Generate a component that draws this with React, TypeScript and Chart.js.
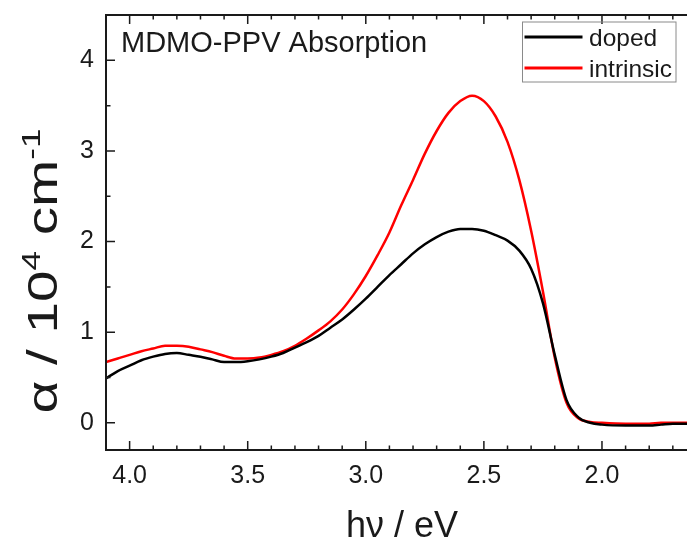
import React, { useEffect, useRef } from 'react';
import { Chart, registerables } from 'chart.js';

Chart.register(...registerables);

// ---- data ----
const energy = [
  4.10, 4.05, 4.00, 3.95, 3.90, 3.85, 3.80, 3.75, 3.70, 3.65, 3.60, 3.55, 3.50, 3.45, 3.40,
  3.35, 3.30, 3.25, 3.20, 3.15, 3.10, 3.05, 3.00, 2.95, 2.90, 2.85, 2.80, 2.75, 2.70, 2.65,
  2.60, 2.55, 2.50, 2.45, 2.40, 2.35, 2.30, 2.25, 2.20, 2.15, 2.10, 2.05, 2.00, 1.90, 1.80,
  1.75, 1.70, 1.64,
];
const intrinsic = [
  0.67, 0.71, 0.75, 0.79, 0.82, 0.85, 0.85, 0.84, 0.81, 0.78, 0.74, 0.71, 0.71, 0.72, 0.75,
  0.79, 0.85, 0.93, 1.02, 1.12, 1.25, 1.42, 1.62, 1.85, 2.10, 2.40, 2.68, 2.97, 3.22, 3.42,
  3.55, 3.61, 3.55, 3.38, 3.10, 2.68, 2.12, 1.45, 0.72, 0.22, 0.05, 0.01, 0.00, -0.01, -0.01,
  0.00, 0.00, 0.00,
];
const doped = [
  0.49, 0.57, 0.63, 0.69, 0.73, 0.76, 0.77, 0.75, 0.73, 0.70, 0.67, 0.67, 0.68, 0.70, 0.73,
  0.77, 0.83, 0.89, 0.96, 1.05, 1.14, 1.25, 1.37, 1.50, 1.63, 1.75, 1.87, 1.97, 2.05, 2.11,
  2.14, 2.14, 2.12, 2.07, 2.01, 1.90, 1.70, 1.32, 0.75, 0.25, 0.06, 0.00, -0.02, -0.03, -0.03,
  -0.02, -0.01, -0.01,
];
const xTickValues = [4.0, 3.5, 3.0, 2.5, 2.0];
const yTickValues = [0, 1, 2, 3, 4];
const xRange = [1.64, 4.1];
const yRange = [-0.3, 4.5];
const seriesNames = ['doped', 'intrinsic'];
const seriesColors = ['#000000', '#ff0000'];
const annotationText = 'MDMO-PPV Absorption';

const FONT = '"Liberation Sans", Arial, sans-serif';
const INK = '#1a1a1a';

const framePlugin = {
  id: 'frame',
  afterDatasetsDraw(chart: any) {
    const { ctx, chartArea: a, scales } = chart;
    const xs = scales.x;
    const ys = scales.y;
    ctx.save();
    ctx.strokeStyle = INK;
    ctx.lineWidth = 2;
    ctx.beginPath();
    ctx.moveTo(a.right + 2, a.top);
    ctx.lineTo(a.left, a.top);
    ctx.lineTo(a.left, a.bottom);
    ctx.lineTo(a.right + 2, a.bottom);
    ctx.stroke();
    ctx.lineWidth = 1.5;
    ctx.beginPath();
    for (let k = Math.ceil(xs.min * 10 - 1e-6); k <= Math.floor(xs.max * 10 + 1e-6); k++) {
      const px = xs.getPixelForValue(k / 10);
      const len = k % 5 === 0 ? 9 : 4.5;
      ctx.moveTo(px, a.bottom);
      ctx.lineTo(px, a.bottom - len);
      ctx.moveTo(px, a.top);
      ctx.lineTo(px, a.top + len);
    }
    for (let k = Math.ceil(ys.min * 2 - 1e-6); k <= Math.floor(ys.max * 2 + 1e-6); k++) {
      const py = ys.getPixelForValue(k / 2);
      const len = k % 2 === 0 ? 9 : 4.5;
      ctx.moveTo(a.left, py);
      ctx.lineTo(a.left + len, py);
    }
    ctx.stroke();
    ctx.restore();
  },
  afterDraw(chart: any) {
    const { ctx, chartArea: a } = chart;
    ctx.save();
    ctx.fillStyle = INK;
    ctx.textBaseline = 'alphabetic';
    ctx.textAlign = 'left';

    // annotation
    ctx.font = `29px ${FONT}`;
    ctx.fillText(annotationText, a.left + 15, 52);

    // legend
    const lx = 522.5, ly = 22, lw = 153.5, lh = 60;
    ctx.strokeStyle = '#8a8a8a';
    ctx.lineWidth = 1;
    ctx.strokeRect(lx, ly, lw, lh);
    const rows = [37, 68];
    seriesNames.forEach((name, i) => {
      ctx.strokeStyle = seriesColors[i];
      ctx.lineWidth = 3;
      ctx.beginPath();
      ctx.moveTo(lx + 2, rows[i]);
      ctx.lineTo(lx + 60, rows[i]);
      ctx.stroke();
      ctx.fillStyle = INK;
      ctx.font = `24.5px ${FONT}`;
      ctx.fillText(name, 589, rows[i] + 8.5);
    });

    // x title
    ctx.font = `36px ${FONT}`;
    ctx.textAlign = 'center';
    ctx.fillText('h\u03bd / eV', 402, 537);

    // y title (rotated, stretched along text to the reference's extent)
    ctx.translate(57, 271);
    ctx.rotate(-Math.PI / 2);
    ctx.textAlign = 'left';
    const big = `42px ${FONT}`;
    const small = `26px ${FONT}`;
    const parts: Array<[string, string, number]> = [
      ['\u03b1 / 10', big, 0],
      ['4', small, -17],
      [' cm', big, 0],
      ['-1', small, -17],
    ];
    let total = 0;
    parts.forEach(([t, f]) => {
      ctx.font = f;
      total += ctx.measureText(t).width;
    });
    const targetLen = 285;
    const sx = targetLen / total;
    ctx.scale(sx, 1);
    let x = -total / 2;
    parts.forEach(([t, f, dy]) => {
      ctx.font = f;
      ctx.fillText(t, x, dy);
      x += ctx.measureText(t).width;
    });
    ctx.restore();
  },
};

export default function App() {
  const ref = useRef<HTMLCanvasElement | null>(null);

  useEffect(() => {
    if (!ref.current) return;
    const mk = (ys: number[]) => energy.map((e, i) => ({ x: e, y: ys[i] }));
    const chart = new Chart(ref.current, {
      type: 'line',
      data: {
        datasets: [
          {
            label: seriesNames[0],
            data: mk(doped),
            borderColor: seriesColors[0],
            borderWidth: 2.5,
            pointRadius: 0,
            tension: 0.4,
            cubicInterpolationMode: 'monotone',
            fill: false,
          },
          {
            label: seriesNames[1],
            data: mk(intrinsic),
            borderColor: seriesColors[1],
            borderWidth: 2.5,
            pointRadius: 0,
            tension: 0.4,
            cubicInterpolationMode: 'monotone',
            fill: false,
          },
        ],
      },
      options: {
        animation: false,
        responsive: false,
        devicePixelRatio: 1,
        layout: { padding: { top: 15, right: 0, left: 0, bottom: 0 } },
        plugins: {
          legend: { display: false },
          tooltip: { enabled: false },
          title: { display: false },
        },
        scales: {
          x: {
            type: 'linear',
            reverse: true,
            min: xRange[0],
            max: xRange[1],
            afterBuildTicks: (s: any) => {
              s.ticks = xTickValues.map((v) => ({ value: v }));
            },
            afterFit: (s: any) => {
              s.height = 93;
              s.paddingLeft = 0;
              s.paddingRight = 0;
            },
            grid: { display: false, drawTicks: false },
            border: { display: false },
            ticks: {
              color: INK,
              font: { family: FONT, size: 25 },
              padding: 11,
              maxRotation: 0,
              autoSkip: false,
              callback: (v: any) => Number(v).toFixed(1),
            },
          },
          y: {
            type: 'linear',
            min: yRange[0],
            max: yRange[1],
            afterBuildTicks: (s: any) => {
              s.ticks = yTickValues.map((v) => ({ value: v }));
            },
            afterFit: (s: any) => {
              s.width = 106;
              s.paddingTop = 0;
              s.paddingBottom = 0;
            },
            grid: { display: false, drawTicks: false },
            border: { display: false },
            ticks: {
              color: INK,
              font: { family: FONT, size: 25 },
              padding: 12,
              autoSkip: false,
              callback: (v: any) => String(Math.round(Number(v))),
            },
          },
        },
      },
      plugins: [framePlugin],
    } as any);
    return () => chart.destroy();
  }, []);

  return (
    <canvas
      ref={ref}
      width={687}
      height={543}
      style={{ position: 'fixed', left: 0, top: 0, width: 687, height: 543, background: '#fff' }}
    />
  );
}
